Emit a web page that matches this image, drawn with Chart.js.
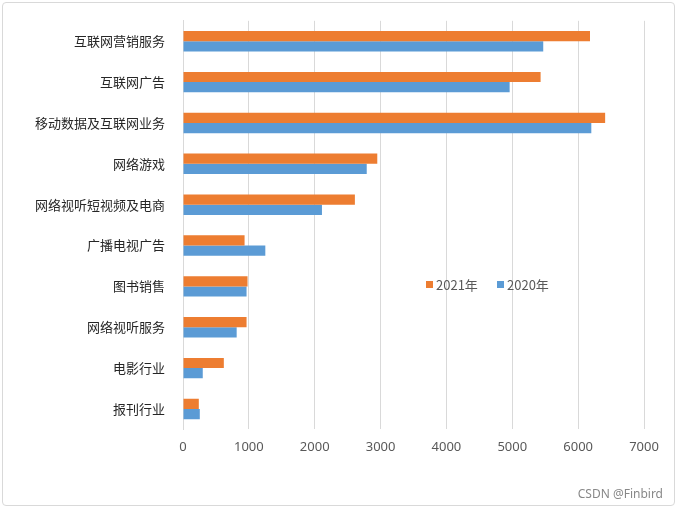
<!DOCTYPE html>
<html>
<head>
<meta charset="utf-8">
<script src="https://cdn.jsdelivr.net/npm/chart.js@4"></script>
<style>
body{margin:0;background:#fff;}
#wrap{position:absolute;left:2px;top:2px;width:671px;height:502px;border:1px solid #d9d9d9;border-radius:4px;}
#mark{position:absolute;right:14px;bottom:6px;font:12px "Noto Sans",sans-serif;color:#888;}
</style>
</head>
<body>
<div id="wrap"><canvas id="myChart"></canvas></div>
<div id="mark">CSDN @Finbird</div>
<script>
var categories = ['互联网营销服务','互联网广告','移动数据及互联网业务','网络游戏','网络视听短视频及电商','广播电视广告','图书销售','网络视听服务','电影行业','报刊行业'];
var values2021 = [6180, 5430, 6410, 2950, 2610, 935, 980, 965, 620, 240];
var values2020 = [5470, 4960, 6200, 2790, 2110, 1250, 965, 815, 300, 255];
var xTicks = [0,1000,2000,3000,4000,5000,6000,7000];

var legendInside = {
  id: 'legendInside',
  afterDraw: function(chart) {
    var c = chart.ctx;
    c.save();
    c.font = '13px "Noto Sans CJK SC", sans-serif';
    c.textBaseline = 'middle';
    var items = [['2021年', '#ed7d31', 423], ['2020年', '#5b9bd5', 494]];
    items.forEach(function(it) {
      c.fillStyle = it[1];
      c.fillRect(it[2], 278, 7, 7);
      c.fillStyle = '#595959';
      c.fillText(it[0], it[2] + 10, 282);
    });
    c.restore();
  }
};

var ctx = document.getElementById('myChart').getContext('2d');
var myChart = new Chart(ctx, {
  type: 'bar',
  data: {
    labels: categories,
    datasets: [{
      label: '2021年',
      data: values2021,
      backgroundColor: '#ed7d31',
      barPercentage: 1,
      categoryPercentage: 0.5
    }, {
      label: '2020年',
      data: values2020,
      backgroundColor: '#5b9bd5',
      barPercentage: 1,
      categoryPercentage: 0.5
    }]
  },
  options: {
    indexAxis: 'y',
    responsive: true,
    maintainAspectRatio: false,
    animation: false,
    layout: { padding: { top: 14, right: 30, bottom: 40, left: 6 } },
    plugins: { legend: { display: false }, tooltip: { enabled: false } },
    scales: {
      x: {
        min: 0, max: 7000,
        afterBuildTicks: function(axis) { axis.ticks = xTicks.map(function(v){ return {value: v}; }); },
        grid: { color: '#d9d9d9', drawTicks: false },
        border: { display: false },
        ticks: { color: '#595959', font: { size: 13, family: 'Noto Sans' }, padding: 10,
          callback: function(v) { return String(v); } }
      },
      y: {
        afterFit: function(axis) { axis.width = 174; },
        grid: { display: false },
        border: { color: '#d9d9d9' },
        ticks: { color: '#262626', font: { size: 13, family: '"Noto Sans CJK SC"' }, padding: 10 }
      }
    }
  },
  plugins: [legendInside]
});
</script>
</body>
</html>
